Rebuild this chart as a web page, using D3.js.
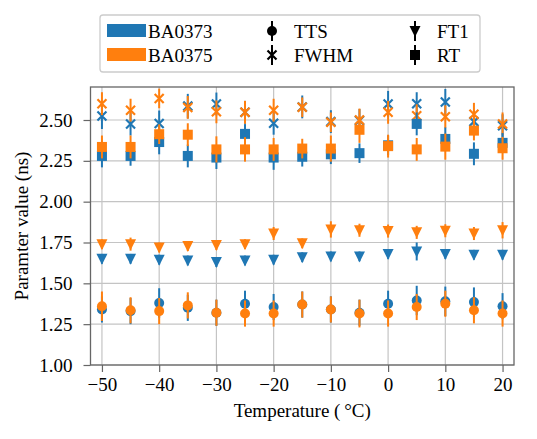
<!DOCTYPE html>
<html>
<head>
<meta charset="utf-8">
<script src="https://cdn.jsdelivr.net/npm/d3@7"></script>
<style>
  body { margin: 0; background: #fff; }
</style>
</head>
<body>
<div id="chart"></div>
<script>
// ============ DATA ============
const temps = [-50, -45, -40, -35, -30, -25, -20, -15, -10, -5, 0, 5, 10, 15, 20];
const devices = ["BA0373", "BA0375"];
const deviceColors = ["#1f77b4", "#ff7f0e"];
const xTicks = [-50, -40, -30, -20, -10, 0, 10, 20];
const yTicks = [1.00, 1.25, 1.50, 1.75, 2.00, 2.25, 2.50];

// TTS (circles)
const ttsA = [1.34, 1.33, 1.38, 1.35, 1.32, 1.375, 1.355, 1.37, 1.34, 1.32, 1.375, 1.395, 1.39, 1.385, 1.36];
const ttsAErr = [0.08, 0.08, 0.09, 0.08, 0.08, 0.08, 0.08, 0.08, 0.08, 0.08, 0.08, 0.09, 0.09, 0.09, 0.08];
const ttsB = [1.36, 1.335, 1.33, 1.365, 1.32, 1.315, 1.315, 1.37, 1.34, 1.315, 1.315, 1.355, 1.375, 1.335, 1.315];
const ttsBErr = [0.09, 0.08, 0.08, 0.08, 0.08, 0.08, 0.08, 0.08, 0.08, 0.085, 0.08, 0.08, 0.08, 0.08, 0.08];

// FT1 (down triangles)
const ft1A = [1.65, 1.65, 1.645, 1.64, 1.63, 1.64, 1.645, 1.66, 1.665, 1.665, 1.68, 1.695, 1.68, 1.675, 1.675];
const ft1AErr = [0.03, 0.03, 0.03, 0.03, 0.03, 0.03, 0.03, 0.03, 0.03, 0.03, 0.03, 0.055, 0.03, 0.03, 0.03];
const ft1B = [1.74, 1.74, 1.72, 1.728, 1.734, 1.74, 1.805, 1.745, 1.83, 1.825, 1.82, 1.812, 1.822, 1.805, 1.825];
const ft1BErr = [0.03, 0.04, 0.03, 0.03, 0.03, 0.03, 0.04, 0.03, 0.05, 0.04, 0.04, 0.04, 0.04, 0.04, 0.05];

// FWHM (x markers)
const fwhmA = [2.525, 2.475, 2.478, 2.585, 2.598, 2.547, 2.48, 2.58, 2.49, 2.497, 2.598, 2.60, 2.61, 2.49, 2.465];
const fwhmAErr = [0.08, 0.07, 0.08, 0.075, 0.07, 0.07, 0.07, 0.07, 0.07, 0.07, 0.08, 0.07, 0.08, 0.07, 0.07];
const fwhmB = [2.60, 2.56, 2.632, 2.577, 2.55, 2.547, 2.56, 2.578, 2.486, 2.50, 2.547, 2.526, 2.52, 2.535, 2.476];
const fwhmBErr = [0.07, 0.07, 0.06, 0.07, 0.07, 0.07, 0.07, 0.06, 0.06, 0.07, 0.07, 0.07, 0.07, 0.07, 0.07];

// RT (squares)
const rtA = [2.28, 2.28, 2.365, 2.28, 2.27, 2.415, 2.27, 2.275, 2.29, 2.297, 2.345, 2.476, 2.384, 2.293, 2.36];
const rtAErr = [0.07, 0.06, 0.075, 0.07, 0.07, 0.06, 0.075, 0.06, 0.06, 0.06, 0.06, 0.07, 0.07, 0.07, 0.06];
const rtB = [2.335, 2.335, 2.413, 2.41, 2.32, 2.32, 2.32, 2.325, 2.325, 2.44, 2.34, 2.32, 2.337, 2.435, 2.327];
const rtBErr = [0.07, 0.07, 0.06, 0.07, 0.08, 0.075, 0.07, 0.06, 0.08, 0.08, 0.07, 0.07, 0.08, 0.06, 0.07];

const params = [
    {name: "TTS", marker: "circle", values: [ttsA, ttsB], errors: [ttsAErr, ttsBErr]},
    {name: "FWHM", marker: "x", values: [fwhmA, fwhmB], errors: [fwhmAErr, fwhmBErr]},
    {name: "FT1", marker: "tri", values: [ft1A, ft1B], errors: [ft1AErr, ft1BErr]},
    {name: "RT", marker: "square", values: [rtA, rtB], errors: [rtAErr, rtBErr]}
];

// ============ LAYOUT ============
const W = 537, H = 439;
const margin = {top: 87, right: 23, bottom: 74, left: 90.5};
const width = W - margin.left - margin.right;
const height = H - margin.top - margin.bottom;
const fontSize = 19;
const serif = "'Times New Roman', Tinos, 'Liberation Serif', serif";

const svg = d3.select("#chart")
    .append("svg")
    .attr("width", W)
    .attr("height", H);

const g = svg.append("g")
    .attr("transform", `translate(${margin.left},${margin.top})`);

const x = d3.scaleLinear().domain([-52, 22]).range([0, width]);
const y = d3.scaleLinear().domain([1.0, 2.702]).range([height, 0]);

// Grid lines
g.append("g").selectAll("line")
    .data(xTicks).enter().append("line")
    .attr("x1", d => x(d)).attr("x2", d => x(d))
    .attr("y1", 0).attr("y2", height)
    .attr("stroke", "#c4c4c4").attr("stroke-width", 1.2);

g.append("g").selectAll("line")
    .data(yTicks).enter().append("line")
    .attr("x1", 0).attr("x2", width)
    .attr("y1", d => y(d)).attr("y2", d => y(d))
    .attr("stroke", "#c4c4c4").attr("stroke-width", 1.2);

// Marker drawing helper
function drawMarker(sel, type, cx, cy, color) {
    const s = 5;
    if (type === "circle") {
        sel.append("circle").attr("cx", cx).attr("cy", cy).attr("r", s).attr("fill", color);
    } else if (type === "square") {
        sel.append("rect").attr("x", cx - s).attr("y", cy - s)
            .attr("width", 2 * s).attr("height", 2 * s).attr("fill", color);
    } else if (type === "tri") {
        sel.append("path")
            .attr("d", `M${cx - 5.5},${cy - 5} L${cx + 5.5},${cy - 5} L${cx},${cy + 6} Z`)
            .attr("fill", color);
    } else if (type === "x") {
        sel.append("path")
            .attr("d", `M${cx - 4.5},${cy - 4.5} L${cx + 4.5},${cy + 4.5} M${cx - 4.5},${cy + 4.5} L${cx + 4.5},${cy - 4.5}`)
            .attr("stroke", color).attr("stroke-width", 2.2).attr("fill", "none");
    }
}

// Draw data: error bars + markers
const plot = g.append("g");
params.forEach(p => {
    devices.forEach((dev, di) => {
        const color = deviceColors[di];
        const grp = plot.append("g");
        temps.forEach((t, i) => {
            const v = p.values[di][i];
            const e = p.errors[di][i];
            grp.append("line")
                .attr("x1", x(t)).attr("x2", x(t))
                .attr("y1", y(v - e)).attr("y2", y(v + e))
                .attr("stroke", color).attr("stroke-width", 2);
            drawMarker(grp, p.marker, x(t), y(v), color);
        });
    });
});

// Axes
const xAxis = g.append("g")
    .attr("transform", `translate(0,${height})`)
    .call(d3.axisBottom(x).tickValues(xTicks).tickSize(7).tickPadding(6).tickFormat(d3.format("d")));
const yAxis = g.append("g")
    .call(d3.axisLeft(y).tickValues(yTicks).tickSize(7).tickPadding(11).tickFormat(d3.format(".2f")));

[xAxis, yAxis].forEach(ax => {
    ax.attr("font-family", serif).attr("font-size", fontSize);
    ax.select(".domain").remove();
    ax.selectAll(".tick line").attr("stroke", "#666").attr("stroke-width", 1.2);
    ax.selectAll(".tick text").attr("fill", "#000");
});

// Frame
g.append("rect")
    .attr("x", 0).attr("y", 0)
    .attr("width", width).attr("height", height)
    .attr("fill", "none").attr("stroke", "#666").attr("stroke-width", 1.3);

// Axis labels
svg.append("text")
    .attr("x", margin.left + width / 2)
    .attr("y", 417)
    .attr("text-anchor", "middle")
    .attr("font-family", serif)
    .attr("font-size", fontSize)
    .text("Temperature (\u2009\u00B0C)");

svg.append("text")
    .attr("transform", "rotate(-90)")
    .attr("x", -(margin.top + height / 2))
    .attr("y", 28)
    .attr("text-anchor", "middle")
    .attr("font-family", serif)
    .attr("font-size", fontSize)
    .text("Paramter value (ns)");

// Legend
const legend = svg.append("g");
legend.append("rect")
    .attr("x", 100).attr("y", 15)
    .attr("width", 380).attr("height", 57)
    .attr("rx", 3)
    .attr("fill", "#fff").attr("stroke", "#cccccc").attr("stroke-width", 1.3);

const rowY = [31, 55];
devices.forEach((dev, i) => {
    legend.append("rect")
        .attr("x", 107).attr("y", rowY[i] - 7)
        .attr("width", 39).attr("height", 13)
        .attr("fill", deviceColors[i]);
    legend.append("text")
        .attr("x", 148).attr("y", rowY[i])
        .attr("dy", "0.35em")
        .attr("font-family", serif)
        .attr("font-size", fontSize)
        .text(dev);
});

const legendItems = [
    {p: params[0], x: 272, row: 0},
    {p: params[1], x: 272, row: 1},
    {p: params[2], x: 415, row: 0},
    {p: params[3], x: 415, row: 1}
];
legendItems.forEach(item => {
    const cy = rowY[item.row];
    legend.append("line")
        .attr("x1", item.x).attr("x2", item.x)
        .attr("y1", cy - 10).attr("y2", cy + 10)
        .attr("stroke", "#000").attr("stroke-width", 2);
    drawMarker(legend, item.p.marker, item.x, cy, "#000");
    legend.append("text")
        .attr("x", item.x + 22).attr("y", cy)
        .attr("dy", "0.35em")
        .attr("font-family", serif)
        .attr("font-size", fontSize)
        .text(item.p.name);
});
</script>
</body>
</html>
